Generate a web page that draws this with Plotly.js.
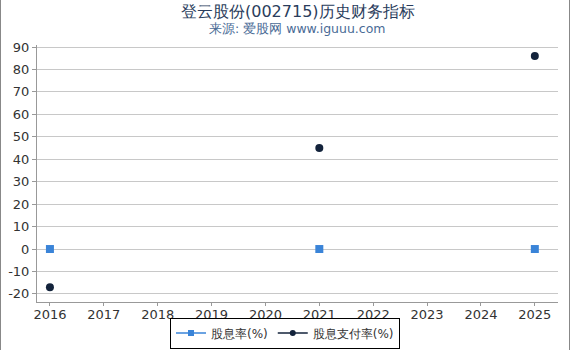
<!DOCTYPE html>
<html><head><meta charset="utf-8">
<script src="https://cdn.plot.ly/plotly-3.0.1.min.js"></script>
<style>html,body{margin:0;padding:0;background:#fff}#c{width:570px;height:350px;box-sizing:border-box;border:1px solid #888;border-top:none}</style>
</head><body><div id="c"></div>
<script>
const years = [2016, 2021, 2025];
const dividendYield = [0, 0, 0];
const payoutRatio = [-17, 45, 86];
const xTicks = [2016,2017,2018,2019,2020,2021,2022,2023,2024,2025];
const yTicks = [-20,-10,0,10,20,30,40,50,60,70,80,90];
const seriesNames = ['股息率(%)', '股息支付率(%)'];
const colors = ['#3a84d8', '#13233b'];
const font = 'DejaVu Sans, sans-serif';
const mk = (i, sym, s) => ({symbol: sym, size: s, color: colors[i]});
Plotly.newPlot('c', [
  {x: years, y: dividendYield, name: seriesNames[0], type: 'scatter', mode: 'markers', showlegend: false,
   marker: mk(0, 'square', 8)},
  {x: years, y: payoutRatio, name: seriesNames[1], type: 'scatter', mode: 'markers', showlegend: false,
   marker: mk(1, 'circle', 8)},
  {x: [null], y: [null], name: seriesNames[0], type: 'scatter', mode: 'lines+markers',
   line: {color: colors[0], width: 1.5}, marker: mk(0, 'square', 6)},
  {x: [null], y: [null], name: seriesNames[1], type: 'scatter', mode: 'lines+markers',
   line: {color: colors[1], width: 1.5}, marker: mk(1, 'circle', 6)}
], {
  width: 568, height: 350,
  margin: {l: 36, r: 11, t: 45, b: 48},
  paper_bgcolor: '#fff', plot_bgcolor: '#fff',
  font: {family: font, color: '#333', size: 13},
  annotations: [
    {text: '登云股份(002715)历史财务指标', xref: 'paper', yref: 'paper', x: 0.5, xanchor: 'center',
     y: 1, yshift: 45, yanchor: 'top', showarrow: false, font: {size: 16, color: '#2a3d5c', family: font}},
    {text: '来源: 爱股网 www.iguuu.com', xref: 'paper', yref: 'paper', x: 0.5, xanchor: 'center',
     y: 1, yshift: 26, yanchor: 'top', showarrow: false, font: {size: 12.5, color: '#4a6b96', family: font}}
  ],
  xaxis: {range: [2015.76, 2025.43], tickvals: xTicks, ticktext: xTicks.map(String), showgrid: false,
    showline: true, linecolor: '#999', ticks: 'outside', ticklen: 3, tickcolor: '#999', zeroline: false,
    ticklabelstandoff: -3, tickfont: {size: 13, color: '#333'}},
  yaxis: {range: [-23.6, 90.9], tickvals: yTicks, ticktext: yTicks.map(String), showgrid: true, gridcolor: '#c8c8c8', zeroline: false,
    showline: true, linecolor: '#999', ticks: 'outside', ticklen: 4, tickcolor: '#999',
    tickfont: {size: 13, color: '#333'}},
  showlegend: true,
  legend: {orientation: 'h', x: 0.5, xanchor: 'center', xref: 'container', yref: 'container', y: 0.004, yanchor: 'bottom',
    bordercolor: '#000', borderwidth: 1, font: {size: 12, color: '#333'}, itemwidth: 30,
    tracegroupgap: 0}
}, {displayModeBar: false});
</script></body></html>
